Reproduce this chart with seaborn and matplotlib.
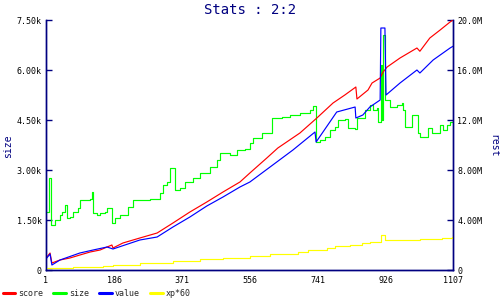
import seaborn as sns
import matplotlib.pyplot as plt

# series data (x = record index)
size_idx = [1, 9, 15, 25, 39, 44, 53, 58, 66, 74, 88, 93, 121, 126, 129, 140, 148, 161, 167, 180,
            189, 202, 224, 237, 284, 311, 319, 330, 338, 352, 365, 379, 400, 419, 447, 466, 474, 501,
            520, 542, 555, 564, 588, 615, 642, 664, 691, 718, 727, 735, 746, 759, 773, 786, 794, 813,
            821, 841, 846, 868, 881, 890, 900, 903, 911, 914, 917, 922, 936, 955, 968, 971, 977, 996,
            1012, 1017, 1039, 1050, 1072, 1080, 1091, 1099, 1107]
size_val = [1740, 2760, 1350, 1500, 1650, 1740, 1950, 1560, 1590, 1740, 1860, 2100, 2130, 2340, 1710,
            1650, 1710, 1740, 1860, 1410, 1560, 1650, 1890, 2100, 2130, 2310, 2550, 2640, 3060, 2400,
            2460, 2640, 2760, 2910, 3090, 3300, 3510, 3450, 3600, 3630, 3810, 3960, 4110, 4560, 4590,
            4650, 4710, 4800, 4920, 3840, 3900, 3990, 4200, 4290, 4500, 4530, 4260, 4230, 4560, 4800,
            4950, 4800, 4860, 4440, 6150, 4500, 7050, 5100, 4890, 4950, 5010, 4800, 4290, 4650, 4110,
            3990, 4260, 4110, 4350, 4200, 4350, 4440, 4440]

score_idx = [1, 12, 17, 39, 66, 93, 121, 148, 167, 180, 183, 210, 256, 303, 346, 392, 438, 482, 528,
             555, 601, 631, 691, 737, 781, 813, 843, 846, 876, 887, 909, 917, 928, 963, 1009, 1017,
             1044, 1072, 1099, 1107]
score_val = [0.96, 1.36, 0.56, 0.80, 0.96, 1.20, 1.44, 1.60, 1.84, 2.00, 1.76, 2.16, 2.56, 2.96, 3.76,
             4.64, 5.44, 6.24, 7.04, 7.76, 8.96, 9.76, 10.96, 12.16, 13.36, 14.0, 14.64, 13.68, 14.4,
             14.96, 15.36, 15.84, 16.24, 16.96, 17.76, 17.5, 18.56, 19.2, 19.84, 20.0]

value_idx = [1, 12, 17, 39, 93, 129, 167, 183, 256, 303, 346, 392, 438, 482, 528, 555, 672, 732, 735,
             791, 841, 843, 862, 881, 909, 911, 922, 925, 963, 1009, 1017, 1053, 1099, 1107]
value_val = [0.88, 1.28, 0.40, 0.80, 1.36, 1.60, 1.84, 1.68, 2.40, 2.64, 3.44, 4.24, 5.12, 5.84, 6.64,
             7.04, 9.6, 11.04, 10.24, 12.64, 13.04, 12.16, 12.4, 13.04, 13.6, 19.36, 19.36, 14.0, 14.96,
             16.0, 15.76, 16.8, 17.76, 17.9]

xp_idx = [1, 74, 156, 183, 256, 346, 419, 482, 555, 610, 686, 713, 764, 786, 827, 860, 881, 911, 922,
          1017, 1077, 1104, 1107]
xp_val = [0.16, 0.24, 0.32, 0.40, 0.56, 0.72, 0.88, 0.96, 1.12, 1.28, 1.44, 1.60, 1.76, 1.92, 2.00,
          2.16, 2.24, 2.80, 2.40, 2.48, 2.56, 2.64, 2.64]

x_ticks = [1, 186, 371, 556, 741, 926, 1107]
left_ticks = [0, 1500, 3000, 4500, 6000, 7500]
left_labels = ['0', '1.50k', '3.00k', '4.50k', '6.00k', '7.50k']
right_ticks = [0, 4e6, 8e6, 12e6, 16e6, 20e6]
right_labels = ['0', '4.00M', '8.00M', '12.0M', '16.0M', '20.0M']

navy = '#000080'
sns.set_style('white')
plt.rcParams['font.family'] = ['DejaVu Sans Mono']

fig = plt.figure(figsize=(5, 3), dpi=100)
ax = fig.add_axes([0.092, 0.1, 0.814, 0.8333])
ax2 = ax.twinx()

lw = 0.85
sns.lineplot(x=size_idx, y=size_val, ax=ax, color='#00ff00', lw=lw, drawstyle='steps-post',
             label='size', legend=False)
sns.lineplot(x=score_idx, y=[v * 1e6 for v in score_val], ax=ax2, color='#ff0000', lw=lw,
             label='score', legend=False)
sns.lineplot(x=value_idx, y=[v * 1e6 for v in value_val], ax=ax2, color='#0000ff', lw=lw,
             label='value', legend=False)
sns.lineplot(x=xp_idx, y=[v * 1e6 for v in xp_val], ax=ax2, color='#ffff00', lw=lw,
             drawstyle='steps-post', label='xp*60', legend=False)

ax.set_xlim(1, 1107)
ax.set_ylim(0, 7500)
ax2.set_ylim(0, 20e6)
ax.set_xticks(x_ticks)
ax.set_xticklabels([str(t) for t in x_ticks])
ax.set_yticks(left_ticks)
ax.set_yticklabels(left_labels)
ax2.set_yticks(right_ticks)
ax2.set_yticklabels(right_labels)

for a in (ax, ax2):
    a.tick_params(direction='in', length=4, width=1, color=navy, labelsize=6, labelcolor='black', pad=3)
    a.spines['top'].set_visible(False)
    for s in ('left', 'right', 'bottom'):
        a.spines[s].set_color(navy)
        a.spines[s].set_linewidth(1)
    a.set_xlabel('')
    a.set_ylabel('')
ax.tick_params(axis='x', pad=4)

fig.text(0.5, 0.965, 'Stats : 2:2', ha='center', va='center', fontsize=10, color=navy)
fig.text(8 / 500, 0.513, 'size', rotation=90, ha='center', va='center', fontsize=7, color=navy)
fig.text(493 / 500, 0.513, 'rest', rotation=270, ha='center', va='center', fontsize=7, color=navy)

handles = [ax2.lines[0], ax.lines[0], ax2.lines[1], ax2.lines[2]]
leg = fig.legend(handles, ['score', 'size', 'value', 'xp*60'], loc='center left',
                 bbox_to_anchor=(0.005, 7 / 300), ncol=4, frameon=False, fontsize=6,
                 handlelength=1.5, handletextpad=0.4, columnspacing=1.2,
                 borderaxespad=0, borderpad=0)
for h in leg.legend_handles:
    h.set_linewidth(2.2)

fig.savefig('out.png', dpi=100)
